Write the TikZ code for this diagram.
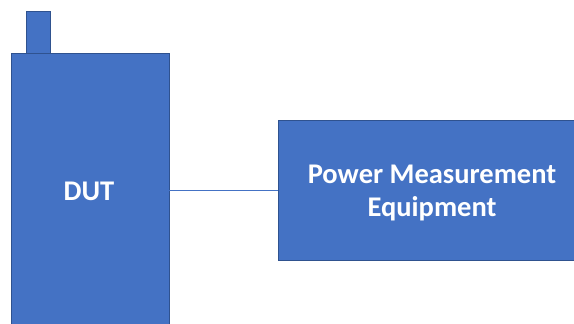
\documentclass[tikz,border=0pt]{standalone}
\usepackage{fontspec}
\setmainfont{Carlito}
\definecolor{fillb}{HTML}{4472C4}
\definecolor{edgeb}{HTML}{2F528F}
\begin{document}
\begin{tikzpicture}[x=1pt,y=-1pt,
  blockbox/.style={fill=fillb,draw=edgeb,line width=1pt},
  lbl/.style={text=white,font=\bfseries\fontsize{28.5}{33}\selectfont,align=center}]
\useasboundingbox (0,0) rectangle (574,324);
\begin{scope}
\clip (0,0) rectangle (574,324);
\draw[blockbox] (26,11) rectangle (50,53);
\draw[blockbox] (11,53) rectangle (169,330);
\draw[blockbox] (278,120) rectangle (580,260);
\end{scope}
\node[lbl] (dut) at (89,191) {DUT};
\node[lbl] (pme) at (432,193) {Power Measurement\\Equipment};
\coordinate (a) at (169,190);
\coordinate (b) at (278,190);
\draw[fillb,line width=1pt] (a) -- (b);
\end{tikzpicture}
\end{document}
